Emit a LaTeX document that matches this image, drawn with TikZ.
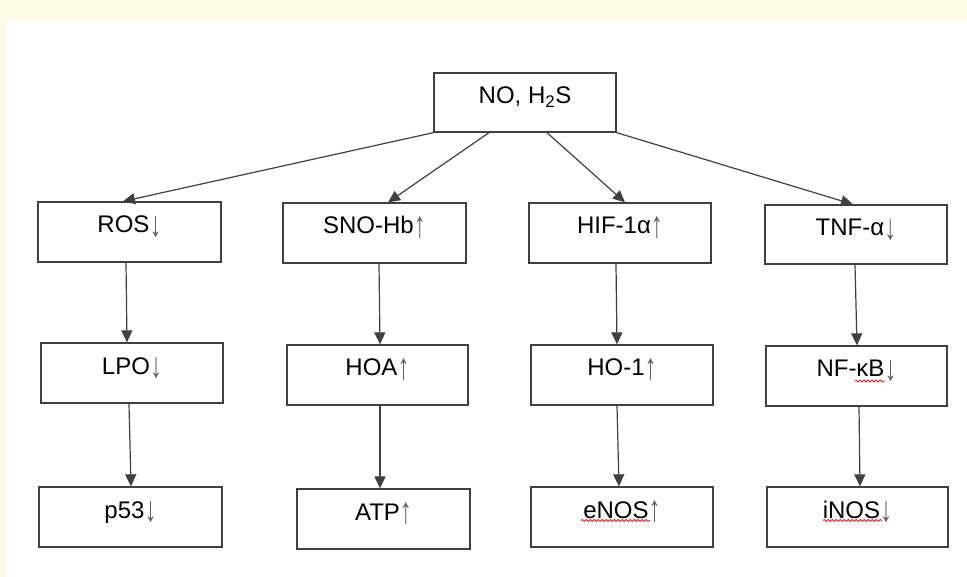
\documentclass[tikz,border=0pt]{standalone}
\usepackage{fontspec}
\setmainfont{Liberation Sans}
\usetikzlibrary{arrows.meta,decorations.pathmorphing}
\definecolor{cream}{RGB}{255,251,230}
\definecolor{edge}{RGB}{64,64,64}
\definecolor{wavy}{RGB}{230,30,30}
\definecolor{argray}{RGB}{95,95,95}
\newcommand\dnar{{\color{argray}\raisebox{-5pt}{\resizebox*{\width}{21pt}{\raisebox{\depth}{↓}}}}}
\newcommand\upar{{\color{argray}\raisebox{-5pt}{\resizebox*{\width}{22pt}{\raisebox{\depth}{↑}}}}}
\begin{document}
\begin{tikzpicture}[x=1pt,y=-1pt,
  box/.style={draw=edge,line width=1.3pt,fill=white,minimum width=182pt,minimum height=60pt,
    inner sep=0pt,text height=12pt,text depth=10pt,font=\fontsize{24}{28}\selectfont},
  arr/.style={draw=edge,line width=1.2pt,-{Triangle[length=12pt,width=11pt]}},
  squig/.style={draw=wavy,line width=0.8pt,decorate,decoration={snake,segment length=4pt,amplitude=1pt}}]
\useasboundingbox (0,0) rectangle (967,577);
\fill[cream] (0,0) rectangle (967,577);
\fill[white] (5.5,21.5) rectangle (967,577);
% top
\node[box,minimum height=59pt] (top) at (525,102.5) {NO, H\textsubscript{2}S};
% row 1
\node[box,minimum width=183pt] (ros) at (129.5,232) {ROS\dnar};
\node[box,minimum width=183pt] (sno) at (374.5,233) {SNO-Hb\upar};
\node[box] (hif) at (620,233) {HIF-1α\upar};
\node[box,minimum height=59pt] (tnf) at (856,234.5) {TNF-α\dnar};
% row 2
\node[box] (lpo) at (132,373) {LPO\dnar};
\node[box,minimum width=181pt] (hoa) at (377.5,375) {HOA\upar};
\node[box] (hoo) at (622,375) {HO-1\upar};
\node[box,minimum width=181pt] (nfkb) at (856.5,376) {NF-κB\dnar};
% row 3
\node[box,minimum width=183pt] (p53) at (130.5,517) {p53\dnar};
\node[box,minimum width=173pt] (atp) at (383.5,519) {ATP\upar};
\node[box] (enos) at (622,517) {eNOS\upar};
\node[box,minimum width=181pt] (inos) at (857.5,517) {iNOS\dnar};
% arrows from top
\draw[arr] (top.south west) -- ([xshift=-6.5pt]ros.north);
\draw[arr] ([xshift=-36pt]top.south) -- ([xshift=13.5pt]sno.north);
\draw[arr] ([xshift=22pt]top.south) -- ([xshift=5pt]hif.north);
\draw[arr] (top.south east) -- ([xshift=-3pt]tnf.north);
% vertical arrows
\draw[arr] ([xshift=-3.5pt]ros.south) -- ([xshift=-5pt]lpo.north);
\draw[arr] ([xshift=-3pt]lpo.south) -- ([xshift=0.5pt]p53.north);
\draw[arr] ([xshift=4.5pt]sno.south) -- ([xshift=2.5pt]hoa.north);
\draw[arr] ([xshift=2.5pt]hoa.south) -- ([xshift=-3.5pt]atp.north);
\draw[arr] ([xshift=-4pt]hif.south) -- ([xshift=-5pt]hoo.north);
\draw[arr] ([xshift=-5pt]hoo.south) -- ([xshift=-3pt]enos.north);
\draw[arr] ([xshift=-1pt]tnf.south) -- ([xshift=0.5pt]nfkb.north);
\draw[arr] ([xshift=2.5pt]nfkb.south) -- ([xshift=2.5pt]inos.north);
% spell-check wavy underlines
\draw[squig] (855,381) -- (885,381);
\draw[squig] (581,520.5) -- (650,520.5);
\draw[squig] (823,520.5) -- (882,520.5);
\end{tikzpicture}
\end{document}
